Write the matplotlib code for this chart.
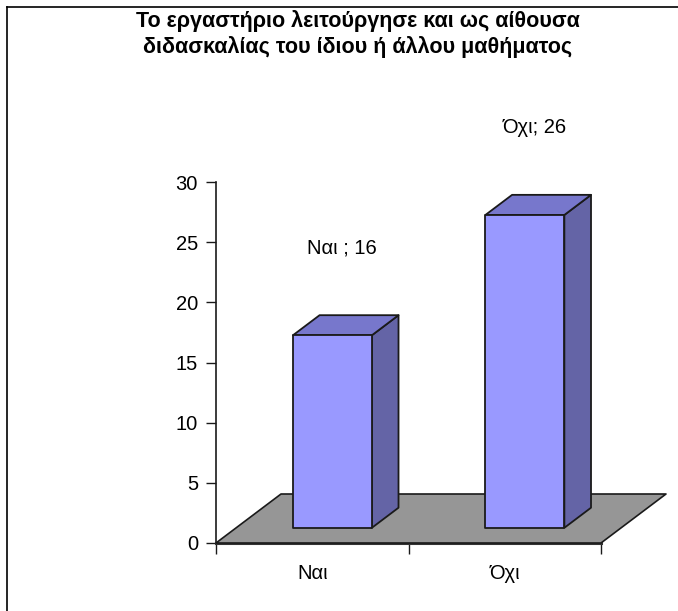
import matplotlib
matplotlib.use("Agg")
import matplotlib.pyplot as plt
import matplotlib.transforms as mtransforms
from matplotlib.patches import Polygon
from matplotlib.lines import Line2D

plt.rcParams['font.family'] = ['Liberation Sans', 'DejaVu Sans']

# ---- data ----
title = "Το εργαστήριο λειτούργησε και ως αίθουσα\nδιδασκαλίας του ίδιου ή άλλου μαθήματος"
categories = ["Ναι", "Όχι"]
values = [16, 26]
data_labels = ["Ναι ; 16", "Όχι; 26"]
yticks = [0, 5, 10, 15, 20, 25, 30]

# ---- style ----
front_c = "#9999FF"
top_c = "#7777CC"
side_c = "#6464A6"
floor_c = "#969696"
edge_c = "#1a1a1a"

W, H, DPI = 678, 611, 100
fig = plt.figure(figsize=(W / DPI, H / DPI), dpi=DPI)
fig.patch.set_facecolor("white")

# axes placement (front plane of the 3D box)
ax = fig.add_axes([216 / W, 68 / H, 385 / W, 361 / H])
ax.set_xlim(-0.5, len(categories) - 0.5)
ax.set_ylim(0, 30)
ax.patch.set_visible(False)

# depth vector (inches) of the floor
DX, DY = 0.65, 0.49
bar_d0, bar_d1 = 0.31, 0.72
bar_w = 0.41


def depth_tf(frac):
    return ax.transData + mtransforms.ScaledTranslation(DX * frac, DY * frac, fig.dpi_scale_trans)


def add_poly(pts, color, lw, z):
    poly = Polygon(pts, closed=True, transform=None, facecolor=color, edgecolor=edge_c,
                   linewidth=lw, joinstyle="round", zorder=z, clip_on=False)
    poly.set_figure(fig)
    fig.patches.append(poly)


# floor
x0, x1 = -0.5, len(categories) - 0.5
tf0 = depth_tf(0.0)
tf1 = depth_tf(1.0)
add_poly([tf0.transform((x0, 0)), tf0.transform((x1, 0)),
          tf1.transform((x1, 0)), tf1.transform((x0, 0))], floor_c, 1.2, 1)

# bars
for i, v in enumerate(values):
    xl, xr = i - bar_w / 2, i + bar_w / 2
    fa = depth_tf(bar_d0)
    ba = depth_tf(bar_d1)
    ftl, ftr = fa.transform((xl, v)), fa.transform((xr, v))
    fbl, fbr = fa.transform((xl, 0)), fa.transform((xr, 0))
    btl, btr = ba.transform((xl, v)), ba.transform((xr, v))
    bbr = ba.transform((xr, 0))
    add_poly([fbr, bbr, btr, ftr], side_c, 1.3, 3)
    add_poly([ftl, ftr, btr, btl], top_c, 1.3, 3)
    add_poly([fbl, fbr, ftr, ftl], front_c, 1.3, 3)

    ax.annotate(data_labels[i], xy=(i, v), xytext=(21.6, 74), textcoords="offset points",
                ha="center", va="center", fontsize=14.5, color="black", zorder=5)

# axes styling
for s in ["top", "right"]:
    ax.spines[s].set_visible(False)
ax.spines["left"].set_linewidth(1.2)
ax.spines["left"].set_color(edge_c)
ax.spines["bottom"].set_linewidth(2.2)
ax.spines["bottom"].set_color("#333333")
ax.spines["bottom"].set_zorder(4)

ax.set_yticks(yticks)
ax.set_yticklabels([str(t) for t in yticks])
ax.tick_params(axis="y", direction="out", length=7, width=1, color=edge_c, pad=6, labelsize=14.5)

ax.set_xticks([k - 0.5 for k in range(len(categories) + 1)])
ax.set_xticklabels([])
ax.set_xticks(list(range(len(categories))), minor=True)
ax.set_xticklabels(categories, minor=True)
ax.tick_params(axis="x", which="major", direction="out", length=8, width=1, color=edge_c)
ax.tick_params(axis="x", which="minor", length=0, pad=15, labelsize=14.5)

# title
fig.text(358 / W, 1 - 34 / H, title, ha="center", va="center", fontsize=15.5,
         fontweight="bold", linespacing=1.2)

# outer frame (top and left)
fig.add_artist(Line2D([7 / W, 1.0], [1 - 7 / H, 1 - 7 / H], color="black", linewidth=1.2,
                      transform=fig.transFigure))
fig.add_artist(Line2D([7 / W, 7 / W], [0, 1 - 7 / H], color="black", linewidth=1.2,
                      transform=fig.transFigure))

fig.savefig("out.png", dpi=DPI)
